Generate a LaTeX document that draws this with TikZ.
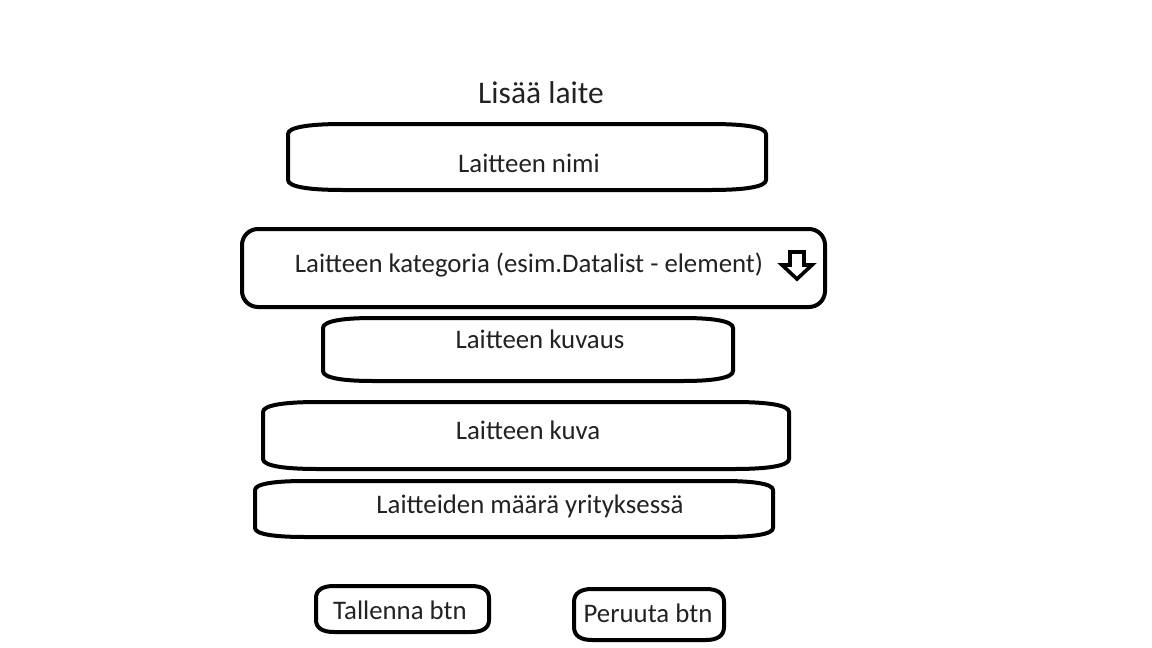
\documentclass[tikz,border=0pt]{standalone}
\usepackage{fontspec}
\setmainfont{Carlito}
\usetikzlibrary{calc}
\definecolor{txt}{HTML}{222222}
\tikzset{
  boxline/.style={draw=black, line width=4pt, line join=round},
  frame/.style={inner sep=0pt, outer sep=0pt, draw=none},
  lbl/.style={text=txt, font=\fontsize{26.8}{30}\selectfont, inner sep=0pt, anchor=center},
  ttl/.style={text=txt, font=\fontsize{31.5}{36}\selectfont, inner sep=0pt},
}
\newcommand\ovalframe[3]{% name, corner drop, corner run
  \draw[boxline]
   ($(#1.north west)+(0,#2)$) .. controls ($(#1.north west)+(0,0.3*#2)$) and ($(#1.north west)+(0.4*#3,0)$) .. ($(#1.north west)+(#3,0)$)
   -- ($(#1.north east)+(-#3,0)$) .. controls ($(#1.north east)+(-0.4*#3,0)$) and ($(#1.north east)+(0,0.3*#2)$) .. ($(#1.north east)+(0,#2)$)
   -- ($(#1.south east)+(0,-#2)$) .. controls ($(#1.south east)+(0,-0.3*#2)$) and ($(#1.south east)+(-0.4*#3,0)$) .. ($(#1.south east)+(-#3,0)$)
   -- ($(#1.south west)+(#3,0)$) .. controls ($(#1.south west)+(0.4*#3,0)$) and ($(#1.south west)+(0,-0.3*#2)$) .. ($(#1.south west)+(0,-#2)$)
   -- cycle;}
\begin{document}
\begin{tikzpicture}[x=1pt,y=-1pt]
\path[fill=white] (0,0) rectangle (1152,648);

\node[ttl] (title) at (541,93) {Lisää laite};

% Laitteen nimi
\node[frame, minimum width=478pt, minimum height=66pt] (nimi) at (527,157) {};
\ovalframe{nimi}{10}{55}
\node[lbl] (nimiT) at (529,163) {Laitteen nimi};

% Kategoria
\node[frame, minimum width=583pt, minimum height=78pt] (kat) at (533.5,268) {};
\draw[boxline, rounded corners=16pt] (kat.north west) rectangle (kat.south east);
\node[lbl] (katT) at (529,265) {Laitteen kategoria (esim.Datalist - element)};
\coordinate (arr) at (797,252);
\draw[line width=3.6pt, line join=miter, fill=white]
  ($(arr)+(-7,0)$) -- ($(arr)+(7,0)$) -- ($(arr)+(7,13)$) -- ($(arr)+(15,13)$)
  -- ($(arr)+(0,27)$) -- ($(arr)+(-15,13)$) -- ($(arr)+(-7,13)$) -- cycle;

% Kuvaus
\node[frame, minimum width=410pt, minimum height=63pt] (kuvaus) at (528,349.5) {};
\ovalframe{kuvaus}{10}{50}
\node[lbl] (kuvausT) at (540,339) {Laitteen kuvaus};

% Kuva
\node[frame, minimum width=526pt, minimum height=67pt] (kuva) at (526,435.5) {};
\ovalframe{kuva}{10}{55}
\node[lbl] (kuvaT) at (528,430) {Laitteen kuva};

% Maara
\node[frame, minimum width=518pt, minimum height=56pt] (maara) at (514,509) {};
\ovalframe{maara}{9}{50}
\node[lbl] (maaraT) at (530,506) {Laitteiden määrä yrityksessä};

% Buttons
\node[frame, minimum width=173pt, minimum height=46pt] (tallenna) at (402.5,609) {};
\ovalframe{tallenna}{12}{18}
\node[lbl] (tallennaT) at (400,610) {Tallenna btn};

\node[frame, minimum width=150pt, minimum height=51pt] (peruuta) at (649,614.5) {};
\ovalframe{peruuta}{13}{18}
\node[lbl] (peruutaT) at (648,613) {Peruuta btn};
\end{tikzpicture}
\end{document}
